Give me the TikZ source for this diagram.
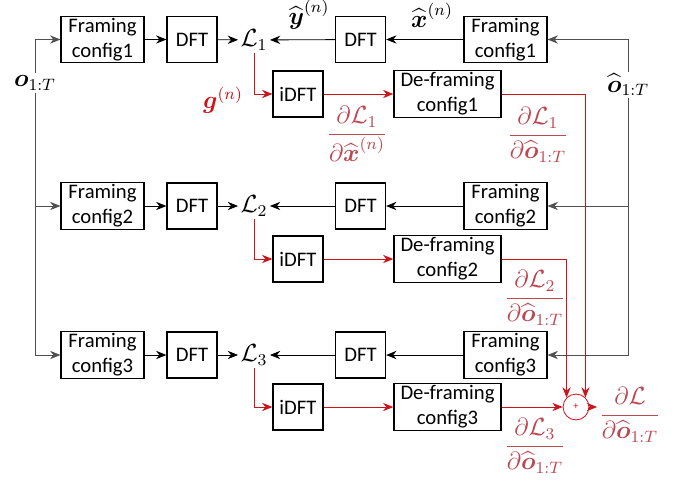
\documentclass[tikz,border=0pt]{standalone}
\usepackage{amsmath,amssymb}
\usepackage{fontspec}
\setmainfont{Carlito}
\usetikzlibrary{arrows.meta,calc}
\definecolor{grad}{RGB}{204,20,28}
\definecolor{gradtxt}{RGB}{188,72,82}
\definecolor{wire}{RGB}{80,80,80}
\tikzset{
  blk/.style={draw, semithick, align=center, inner sep=1pt, minimum height=0.78cm},
  frm/.style={blk, minimum width=1.41cm},
  dft/.style={blk, minimum width=0.85cm},
  dfr/.style={blk, minimum width=1.82cm},
  sig/.style={font=\large, inner sep=1pt},
  dlab/.style={font=\large, text=gradtxt, inner sep=1pt},
}

\begin{document}
\begin{tikzpicture}[x=0.017cm, y=-0.017cm, >={Stealth[length=5pt,width=4pt]}]
\useasboundingbox (0,0) rectangle (678,480);
% inputs on both sides
\node[sig] (o) at (35,83) {$\boldsymbol{o}_{1:T}$};
\node[sig] (oh) at (628,85) {$\widehat{\boldsymbol{o}}_{1:T}$};
% ---- row 1
\node[frm] (fr1) at (102.5,39.5) {Framing\\config1};
\node[dft] (dft1) at (192,39.5) {DFT};
\node[sig] (L1) at (254,40) {$\mathcal{L}_1$};
\node[dft] (dftr1) at (360.5,39.5) {DFT};
\node[frm] (frr1) at (505.5,39.5) {Framing\\config1};
\node[dft] (idft1) at (298,94) {iDFT};
\node[dfr] (defr1) at (447.5,94) {De-framing\\config1};
% ---- row 2
\node[frm] (fr2) at (102.5,206) {Framing\\config2};
\node[dft] (dft2) at (192,206) {DFT};
\node[sig] (L2) at (254,206) {$\mathcal{L}_2$};
\node[dft] (dftr2) at (360.5,206) {DFT};
\node[frm] (frr2) at (505.5,206) {Framing\\config2};
\node[dft] (idft2) at (298,259) {iDFT};
\node[dfr] (defr2) at (447.5,259) {De-framing\\config2};
% ---- row 3
\node[frm] (fr3) at (102.5,355) {Framing\\config3};
\node[dft] (dft3) at (192,355) {DFT};
\node[sig] (L3) at (254,355) {$\mathcal{L}_3$};
\node[dft] (dftr3) at (360.5,355) {DFT};
\node[frm] (frr3) at (505.5,355) {Framing\\config3};
\node[dft] (idft3) at (298,407) {iDFT};
\node[dfr] (defr3) at (447.5,407) {De-framing\\config3};
% sum of the gradients
\node[draw=grad, circle, minimum size=0.44cm, inner sep=0pt, text=grad, font=\tiny] (sum) at (576,407) {+};
% labels
\node[sig] (yh) at (309,15) {$\widehat{\boldsymbol{y}}^{(n)}$};
\node[sig] (xh) at (432,15) {$\widehat{\boldsymbol{x}}^{(n)}$};
\node[font=\large, text=grad, inner sep=1pt] (g) at (223,100) {$\boldsymbol{g}^{(n)}$};
\node[dlab] (dLx) at (357,134) {$\displaystyle\frac{\partial\mathcal{L}_1}{\partial\widehat{\boldsymbol{x}}^{(n)}}$};
\node[dlab] (dL1) at (538,135) {$\displaystyle\frac{\partial\mathcal{L}_1}{\partial\widehat{\boldsymbol{o}}_{1:T}}$};
\node[dlab] (dL2) at (535,298) {$\displaystyle\frac{\partial\mathcal{L}_2}{\partial\widehat{\boldsymbol{o}}_{1:T}}$};
\node[dlab] (dL3) at (535,446) {$\displaystyle\frac{\partial\mathcal{L}_3}{\partial\widehat{\boldsymbol{o}}_{1:T}}$};
\node[dlab] (dL) at (630,415) {$\displaystyle\frac{\partial\mathcal{L}}{\partial\widehat{\boldsymbol{o}}_{1:T}}$};
% forward wires
\draw[wire,->] (o.north) |- (fr1);
\draw[wire,->] (o.south) |- (fr3);
\draw[wire,->] (o.south |- fr2) -- (fr2);
\draw[wire,->] (oh.north) |- (frr1);
\draw[wire,->] (oh.south) |- (frr3);
\draw[wire,->] (oh.south |- frr2) -- (frr2);
\foreach \i in {1,2,3} {
  \draw[->] (fr\i) -- (dft\i);
  \draw[->] (dft\i) -- (L\i);
  \draw[->] (frr\i) -- (dftr\i);
  \draw[->] (dftr\i) -- (L\i);
  % backward
  \draw[grad,->] (L\i) |- (idft\i);
  \draw[grad,->] (idft\i) -- (defr\i);
}
\draw[grad,->] (defr1) -| (sum.north east);
\draw[grad,->] (defr2) -| (sum.north west);
\draw[grad,->] (defr3) -- (sum);
\draw[grad,->] (sum) -- (sum -| dL.west);
\end{tikzpicture}
\end{document}
